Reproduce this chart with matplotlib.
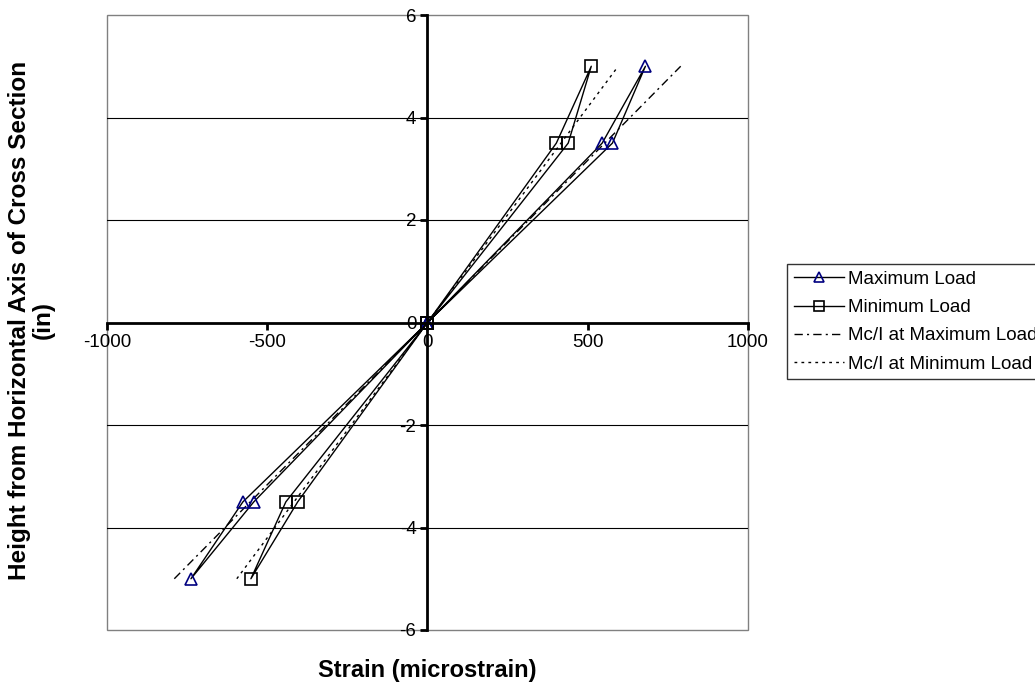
import numpy as np
from matplotlib import pyplot as plt
from matplotlib.patches import Rectangle

plt.rcParams['font.family'] = ['Liberation Sans', 'DejaVu Sans']
plt.rcParams['axes.unicode_minus'] = False

# measured strains, path order as plotted
max_strain = [0, 545, 680, 577, 0, -576, -738, -542, 0]
max_height = [0, 3.5, 5, 3.5, 0, -3.5, -5, -3.5, 0]
min_strain = [0, 402, 511, 439, 0, -442, -551, -405, 0]
min_height = [0, 3.5, 5, 3.5, 0, -3.5, -5, -3.5, 0]

# Mc/I predictions
mci_max_strain = [-790, 790]
mci_min_strain = [-595, 595]
mci_height = [-5, 5]

fig = plt.figure(figsize=(10.35, 6.88), dpi=100)
ax = fig.add_axes([107/1035, 58/688, 641/1035, 615/688])

ax.plot(max_strain, max_height, color='black', lw=1, marker='^', ms=9,
        mfc='none', mec='#000080', mew=1.2, label='Maximum Load', zorder=4)
ax.plot(min_strain, min_height, color='black', lw=1, marker='s', ms=9,
        mfc='none', mec='black', mew=1.2, label='Minimum Load', zorder=4)
ax.plot(mci_max_strain, mci_height, color='black', lw=1,
        dashes=(6, 3, 1.5, 3), label='Mc/I at Maximum Load', zorder=3)
ax.plot(mci_min_strain, mci_height, color='black', lw=1,
        dashes=(2, 3), label='Mc/I at Minimum Load', zorder=3)

ax.set_xlim(-1000, 1000)
ax.set_ylim(-6, 6)
ax.set_xticks([-1000, -500, 0, 500, 1000])
ax.set_yticks([-6, -4, -2, 0, 2, 4, 6])

for g in [-4, -2, 2, 4]:
    ax.axhline(g, color='black', lw=0.8, zorder=1)

for s in ['top', 'right']:
    ax.spines[s].set_visible(False)
for s in ['left', 'bottom']:
    ax.spines[s].set_position('zero')
    ax.spines[s].set_linewidth(2)
    ax.spines[s].set_zorder(5)
ax.add_patch(Rectangle((0, 0), 1, 1, transform=ax.transAxes, fill=False,
                       edgecolor='#808080', lw=1, clip_on=False, zorder=0))

ax.tick_params(direction='out', length=5, width=2, labelsize=13.5, pad=3)

fig.text(427/1035, 1 - 670/688, 'Strain (microstrain)', ha='center', va='center',
         fontsize=17, fontweight='bold')
fig.text(31/1035, 1 - 320/688, 'Height from Horizontal Axis of Cross Section\n(in)',
         ha='center', va='center', rotation=90, fontsize=17.5, fontweight='bold',
         linespacing=1.05)

leg = fig.legend(loc='upper left', bbox_to_anchor=(787/1035, 1 - 264/688),
                 fontsize=13.5, frameon=True, fancybox=False, edgecolor='black',
                 handlelength=2.7, handletextpad=0.2, borderpad=0.35,
                 labelspacing=0.6, borderaxespad=0)
leg.get_frame().set_linewidth(1)
for h in leg.legend_handles:
    h.set_markersize(7)

fig.savefig('out.png', dpi=100)
